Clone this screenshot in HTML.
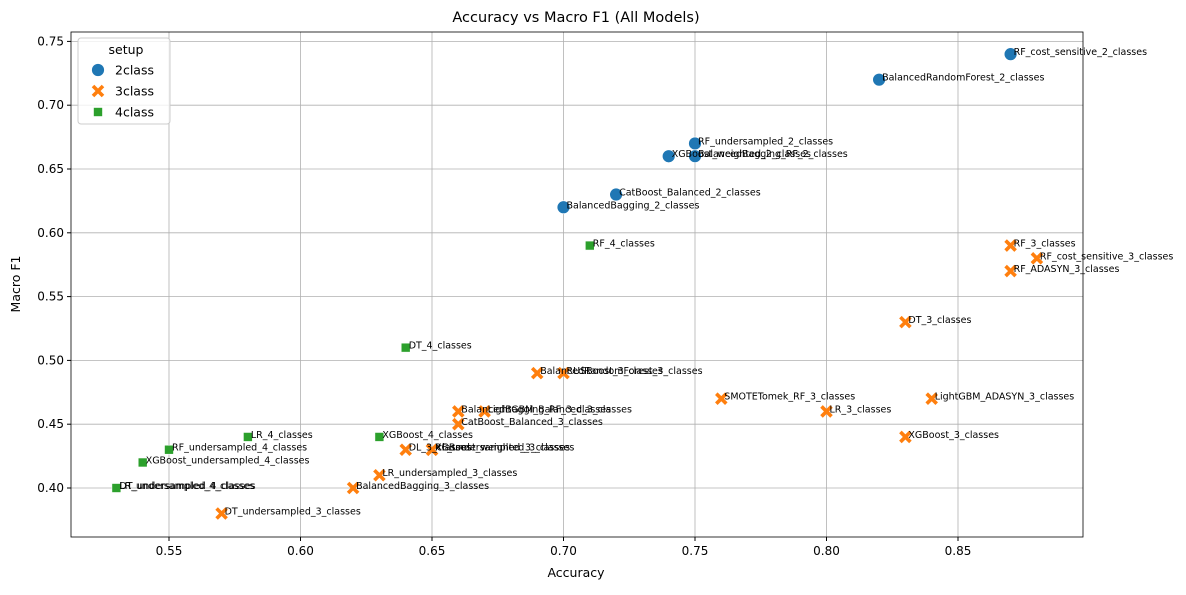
<!DOCTYPE html>
<html><head><meta charset="utf-8"><style>
body{margin:0;background:#fff}
svg text{font-family:"DejaVu Sans","Liberation Sans",sans-serif}
</style></head><body>
<svg id="c" width="1186" height="590" xmlns="http://www.w3.org/2000/svg"></svg>
<script>
const labels2=["RF_cost_sensitive_2_classes","BalancedRandomForest_2_classes","RF_undersampled_2_classes","XGBoost_weighted_2_classes","BalancedBagging_RF_2_classes","CatBoost_Balanced_2_classes","BalancedBagging_2_classes"];
const acc2=[0.87,0.82,0.75,0.74,0.75,0.72,0.70];
const f12=[0.74,0.72,0.67,0.66,0.66,0.63,0.62];
const labels3=["RF_3_classes","RF_cost_sensitive_3_classes","RF_ADASYN_3_classes","DT_3_classes","LightGBM_ADASYN_3_classes","SMOTETomek_RF_3_classes","LR_3_classes","XGBoost_3_classes","BalancedRandomForest_3_classes","RUSBoost_3_classes","BalancedBagging_RF_3_classes","LightGBM_Balanced_3_classes","CatBoost_Balanced_3_classes","DL_3_classes","RF_undersampled_3_classes","XGBoost_weighted_3_classes","LR_undersampled_3_classes","BalancedBagging_3_classes","DT_undersampled_3_classes"];
const acc3=[0.87,0.88,0.87,0.83,0.84,0.76,0.80,0.83,0.69,0.70,0.66,0.67,0.66,0.64,0.65,0.65,0.63,0.62,0.57];
const f13=[0.59,0.58,0.57,0.53,0.47,0.47,0.46,0.44,0.49,0.49,0.46,0.46,0.45,0.43,0.43,0.43,0.41,0.40,0.38];
const labels4=["RF_4_classes","DT_4_classes","XGBoost_4_classes","LR_4_classes","RF_undersampled_4_classes","XGBoost_undersampled_4_classes","DT_undersampled_4_classes","LR_undersampled_4_classes"];
const acc4=[0.71,0.64,0.63,0.58,0.55,0.54,0.53,0.53];
const f14=[0.59,0.51,0.44,0.44,0.43,0.42,0.40,0.40];
const xTicks=[0.55,0.60,0.65,0.70,0.75,0.80,0.85];
const yTicks=[0.40,0.45,0.50,0.55,0.60,0.65,0.70,0.75];

const svg=document.getElementById('c');
const NS="http://www.w3.org/2000/svg";
const L=71,R=1083,T=32,B=537;
const X=v=>169+(v-0.55)*2630;
const Y=v=>488-(v-0.40)*1276;
function el(t,a,txt){const e=document.createElementNS(NS,t);for(const k in a)e.setAttribute(k,a[k]);if(txt!==undefined)e.textContent=txt;svg.appendChild(e);return e;}
xTicks.forEach(v=>{
 const g=el('line',{x1:X(v),x2:X(v),y1:T,y2:B,stroke:'#b0b0b0','stroke-width':0.8});
 
 
 el('line',{x1:X(v),x2:X(v),y1:B,y2:B+4,stroke:'#000'});
 const t=el('text',{x:X(v),y:B+18,'font-size':12,'text-anchor':'middle'},v.toFixed(2));
 
 
});
yTicks.forEach(v=>{
 const g=el('line',{x1:L,x2:R,y1:Y(v),y2:Y(v),stroke:'#b0b0b0','stroke-width':0.8});
 
 
 el('line',{x1:L-4,x2:L,y1:Y(v),y2:Y(v),stroke:'#000'});
 const t=el('text',{x:L-7,y:Y(v)+4,'font-size':12,'text-anchor':'end'},v.toFixed(2));
 
 
});
const fr=el('rect',{x:L,y:T,width:R-L,height:B-T,fill:'none',stroke:'#000','stroke-width':0.8});


function circ(x,y,s){return el('circle',{cx:x,cy:y,r:s||6.5,fill:'#1f77b4',stroke:'#fff','stroke-width':0.8});}
function cross(x,y){const d=5;return el('path',{d:`M${x-d},${y-d}L${x+d},${y+d}M${x-d},${y+d}L${x+d},${y-d}`,stroke:'#ff7f0e','stroke-width':3.6,'stroke-linecap':'butt'});}
function sq(x,y){return el('rect',{x:x-4.5,y:y-4.5,width:9,height:9,fill:'#2ca02c',stroke:'#fff','stroke-width':0.6});}
function series(acc,f1,labs,fn,name){
 acc.forEach((a,i)=>{const m=fn(X(a),Y(f1[i]));
  
  
 });
 acc.forEach((a,i)=>{const t=el('text',{x:X(a)+3,y:Y(f1[i])+1,'font-size':9.5},labs[i]);
  
  
 });
}
series(acc2,f12,labels2,circ,'2class');
series(acc3,f13,labels3,cross,'3class');
series(acc4,f14,labels4,sq,'4class');
let t=el('text',{x:576,y:22,'font-size':14.5,'text-anchor':'middle'},'Accuracy vs Macro F1 (All Models)');

t=el('text',{x:576,y:577,'font-size':12.5,'text-anchor':'middle'},'Accuracy');

t=el('text',{x:20,y:284,'font-size':12.5,'text-anchor':'middle',transform:'rotate(-90 20 284)'},'Macro F1');

const lg=el('rect',{x:78,y:38,width:92,height:86,fill:'#fff','fill-opacity':0.8,stroke:'#ccc',rx:3});

t=el('text',{x:126,y:54,'font-size':12.5,'text-anchor':'middle'},'setup');

[['2class',circ],['3class',cross],['4class',sq]].forEach((e,i)=>{
 const y=70+i*21;
 const m=e[1](98,y);
 
 const tt=el('text',{x:115,y:y+4.5,'font-size':12.5},e[0]);
 
});
</script>
</body></html>
